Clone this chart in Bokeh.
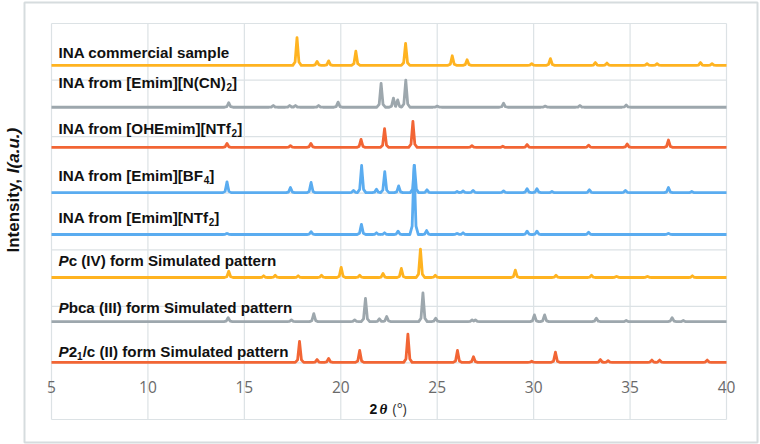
import numpy as np
from bokeh.plotting import figure
from bokeh.models import Range1d, FixedTicker
from bokeh.embed import file_html
from bokeh.resources import INLINE
from bokeh.core.properties import value

# ---------------- data ----------------
x_ticks = [5, 10, 15, 20, 25, 30, 35, 40]
y_grid = [0, 1, 2, 3, 4, 5, 6, 7]

# peak positions (2θ, °) and heights (a.u.) for every pattern
comm_pos = [17.73, 18.77, 19.37, 20.78, 23.36, 25.78, 26.55, 29.9, 30.87, 33.2, 33.8, 35.88, 36.4, 38.65, 39.25]
comm_int = [0.49, 0.07, 0.08, 0.25, 0.39, 0.17, 0.10, 0.03, 0.12, 0.05, 0.04, 0.03, 0.03, 0.05, 0.03]

ncn_pos = [14.19, 16.5, 17.35, 17.65, 18.85, 19.86, 22.09, 22.73, 22.95, 23.37, 25.0, 28.44, 30.6, 32.4, 34.8]
ncn_int = [0.08, 0.03, 0.03, 0.03, 0.03, 0.09, 0.42, 0.16, 0.13, 0.48, 0.02, 0.07, 0.02, 0.03, 0.04]

ohe_pos = [14.1, 17.39, 18.45, 21.05, 22.27, 23.74, 26.8, 28.4, 29.66, 32.85, 34.85, 36.99]
ohe_int = [0.07, 0.03, 0.07, 0.14, 0.33, 0.46, 0.03, 0.02, 0.05, 0.04, 0.06, 0.13]

bf4_pos = [14.1, 17.39, 18.46, 20.66, 21.08, 21.85, 22.28, 23.0, 23.82, 24.47, 26.03, 26.34, 26.86, 28.44, 29.66, 30.17, 30.95, 32.89, 34.76, 36.99, 38.2]
bf4_int = [0.19, 0.09, 0.18, 0.04, 0.48, 0.06, 0.37, 0.12, 0.48, 0.05, 0.02, 0.03, 0.04, 0.03, 0.07, 0.07, 0.02, 0.05, 0.04, 0.09, 0.02]

ntf_pos = [14.1, 18.46, 21.07, 21.85, 22.27, 22.97, 23.80, 24.45, 26.03, 26.34, 29.66, 30.17, 32.85, 36.99]
ntf_int = [0.02, 0.05, 0.18, 0.03, 0.03, 0.06, 1.22, 0.07, 0.02, 0.03, 0.06, 0.06, 0.04, 0.02]

pc_pos = [14.19, 16.0, 16.6, 17.79, 19.0, 20.02, 20.98, 22.19, 23.14, 24.13, 24.9, 29.05, 31.16, 33.0, 34.3, 35.9, 38.23]
pc_int = [0.11, 0.03, 0.04, 0.03, 0.04, 0.18, 0.04, 0.07, 0.16, 0.50, 0.04, 0.13, 0.04, 0.04, 0.02, 0.02, 0.03]

pbca_pos = [14.16, 17.44, 18.6, 20.72, 21.28, 22.0, 22.38, 24.26, 24.92, 26.81, 26.98, 30.04, 30.57, 33.25, 34.8, 37.18, 37.76]
pbca_int = [0.07, 0.03, 0.14, 0.03, 0.41, 0.05, 0.09, 0.51, 0.06, 0.03, 0.03, 0.12, 0.12, 0.06, 0.02, 0.07, 0.02]

p21c_pos = [17.86, 18.77, 19.37, 20.98, 23.48, 26.05, 26.88, 29.9, 31.13, 33.46, 33.86, 36.13, 36.53, 39.0]
p21c_int = [0.37, 0.05, 0.07, 0.21, 0.50, 0.21, 0.10, 0.02, 0.18, 0.05, 0.03, 0.04, 0.04, 0.04]

# vertical offsets of the stacked patterns (a.u.)
offsets = [6.26, 5.52, 4.81, 4.01, 3.27, 2.51, 1.73, 1.01]

# ---------------- layout (pixels) ----------------
W, H = 760, 444
PX_X5, PX_X40 = 51.0, 726.0       # pixel positions of 2θ = 5 and 40
PX_Y0, PX_Y7 = 419.0, 23.0        # pixel positions of grid rows 0 and 7
sx = (PX_X40 - PX_X5) / 35.0
sy = (PX_Y0 - PX_Y7) / 7.0


def dx(px):
    return 5.0 + (px - PX_X5) / sx


def dy(py):
    return (PX_Y0 - py) / sy


# ---------------- style ----------------
C_YEL = "#FFB320"
C_GRY = "#9DA7AD"
C_RED = "#F26534"
C_BLU = "#5AACF0"
GRID = "#DCE2E5"

series = [
    (comm_pos, comm_int, C_YEL),
    (ncn_pos, ncn_int, C_GRY),
    (ohe_pos, ohe_int, C_RED),
    (bf4_pos, bf4_int, C_BLU),
    (ntf_pos, ntf_int, C_BLU),
    (pc_pos, pc_int, C_YEL),
    (pbca_pos, pbca_int, C_GRY),
    (p21c_pos, p21c_int, C_RED),
]

# peak drawing template (shape only)
DX = np.array([-0.22, -0.10, -0.045, 0.0, 0.045, 0.10, 0.22])
FR = np.array([0.0, 0.12, 0.60, 1.0, 0.60, 0.12, 0.0])


def profile(pos, hts):
    xs = {5.0, 40.0}
    for pk in pos:
        xs.update(float(pk + d) for d in DX)
    xs = np.array(sorted(v for v in xs if 5.0 <= v <= 40.0))
    ys = np.zeros_like(xs)
    for pk, h in zip(pos, hts):
        ys = np.maximum(ys, np.interp(xs, pk + DX, h * FR, left=0, right=0))
    return xs, ys


p = figure(width=W, height=H, output_backend="svg", toolbar_location=None,
           x_range=Range1d(dx(0), dx(W)), y_range=Range1d(dy(H), dy(0)),
           min_border=0)
p.outline_line_color = None
p.background_fill_color = "white"
p.border_fill_color = "white"
p.xgrid.visible = False
p.ygrid.visible = False
p.yaxis.visible = False

# outer chart border
p.quad(left=[dx(24)], right=[dx(757)], top=[dy(2)], bottom=[dy(442)],
       fill_color=None, line_color="#D6DCDE", line_width=2)

# plot-area grid
p.segment(x0=x_ticks, y0=[y_grid[0]] * len(x_ticks), x1=x_ticks, y1=[y_grid[-1]] * len(x_ticks),
          line_color=GRID, line_width=1.2)
p.segment(x0=[x_ticks[0]] * len(y_grid), y0=y_grid, x1=[x_ticks[-1]] * len(y_grid), y1=y_grid,
          line_color=GRID, line_width=1.2)

ax = p.xaxis[0]
ax.ticker = FixedTicker(ticks=x_ticks)
ax.fixed_location = 0.87
ax.axis_line_color = None
ax.major_tick_line_color = None
ax.minor_tick_line_color = None
ax.major_label_standoff = 5
ax.major_label_text_font = "Open Sans"
ax.major_label_text_font_size = "15.5px"
ax.major_label_text_color = "#6A6A6A"

for (pos, hts, col), off in zip(series, offsets):
    xs, ys = profile(pos, hts)
    p.line(xs, ys + off, line_color=col, line_width=2.8, line_join="round")

# ---------------- texts ----------------
AW = {' ': 278, 'I': 278, 'N': 722, 'A': 722, 'c': 556, 'o': 611, 'm': 889, 'e': 556, 'r': 389,
      'i': 278, 'a': 556, 'l': 278, 's': 556, 'p': 611, 'f': 333, '[': 333, ']': 333, 'E': 667,
      '(': 333, ')': 333, 'C': 722, 'O': 778, 'H': 722, 'T': 611, 'B': 722, 'F': 611, 'P': 667,
      'V': 667, 'b': 611, 'd': 611, 'S': 667, 'u': 611, 't': 333, 'n': 611, '/': 278, '2': 556,
      '1': 556, '4': 556, '.': 278, ',': 278, 'y': 556}


def tw(s, size):
    return sum(AW[c] for c in s) * size / 1000.0


FS = 15.2
SUB = 10.0
label_x = dx(58)
label_y = [dy(v) for v in (52, 82, 128, 175, 217, 260, 307, 351)]
# (text, kind) segments: n = bold, i = bold italic, s = subscript
label_parts = [
    [("INA commercial sample", "n")],
    [("INA from [Emim][N(CN)", "n"), ("2", "s"), ("]", "n")],
    [("INA from [OHEmim][NTf", "n"), ("2", "s"), ("]", "n")],
    [("INA from [Emim][BF", "n"), ("4", "s"), ("]", "n")],
    [("INA from [Emim][NTf", "n"), ("2", "s"), ("]", "n")],
    [("P", "i"), ("c (IV) form Simulated pattern", "n")],
    [("P", "i"), ("bca (III) form Simulated pattern", "n")],
    [("P", "i"), ("2", "n"), ("1", "s"), ("/c (II) form Simulated pattern", "n")],
]

groups = {"n": dict(x=[], y=[], t=[], xo=[], yo=[]),
          "i": dict(x=[], y=[], t=[], xo=[], yo=[]),
          "s": dict(x=[], y=[], t=[], xo=[], yo=[])}
for yy, parts in zip(label_y, label_parts):
    cur = 0.0
    for txt, kind in parts:
        g = groups[kind]
        g["x"].append(label_x)
        g["y"].append(yy)
        g["t"].append(txt)
        g["xo"].append(cur)
        g["yo"].append(4.5 if kind == "s" else 0.0)
        cur += tw(txt, SUB if kind == "s" else FS)

for kind, g in groups.items():
    p.text(x=g["x"], y=g["y"], text=g["t"], x_offset=g["xo"], y_offset=g["yo"],
           text_font=value("Liberation Sans"),
           text_font_size="%gpx" % (SUB if kind == "s" else FS),
           text_font_style="bold italic" if kind == "i" else "bold",
           text_color="#111111", text_baseline="middle", text_align="left")

# x axis title: 2 θ (°)
xt_x, xt_y = dx(369), dy(408)
p.text(x=[xt_x], y=[xt_y], text=["2"], text_font=value("Liberation Sans"), text_font_size="14px",
       text_font_style="bold", text_color="#111111", text_baseline="middle", text_align="left")
p.text(x=[xt_x], y=[xt_y], text=["θ"], x_offset=[10], text_font=value("Liberation Serif"),
       text_font_size="15px", text_font_style="bold italic", text_color="#111111",
       text_baseline="middle", text_align="left")
p.text(x=[xt_x], y=[xt_y], text=["(°)"], x_offset=[23], text_font=value("Open Sans"),
       text_font_size="14px", text_font_style="normal", text_color="#333333",
       text_baseline="middle", text_align="left")

# y axis title: Intensity, I(a.u.)  (reads bottom to top)
YS = 17.0
yl_x, yl_y0 = dx(13), dy(252)
yl_y1 = yl_y0 + tw("Intensity, ", YS) / sy
p.text(x=[yl_x], y=[yl_y0], text=["Intensity, "], angle=np.pi / 2, text_font=value("Liberation Sans"),
       text_font_size="%gpx" % YS, text_font_style="bold", text_color="#111111",
       text_baseline="middle", text_align="left")
p.text(x=[yl_x], y=[yl_y1], text=["I(a.u.)"], angle=np.pi / 2, text_font=value("Liberation Sans"),
       text_font_size="%gpx" % YS, text_font_style="bold italic", text_color="#111111",
       text_baseline="middle", text_align="left")

open("out.html", "w").write(file_html(p, INLINE))
